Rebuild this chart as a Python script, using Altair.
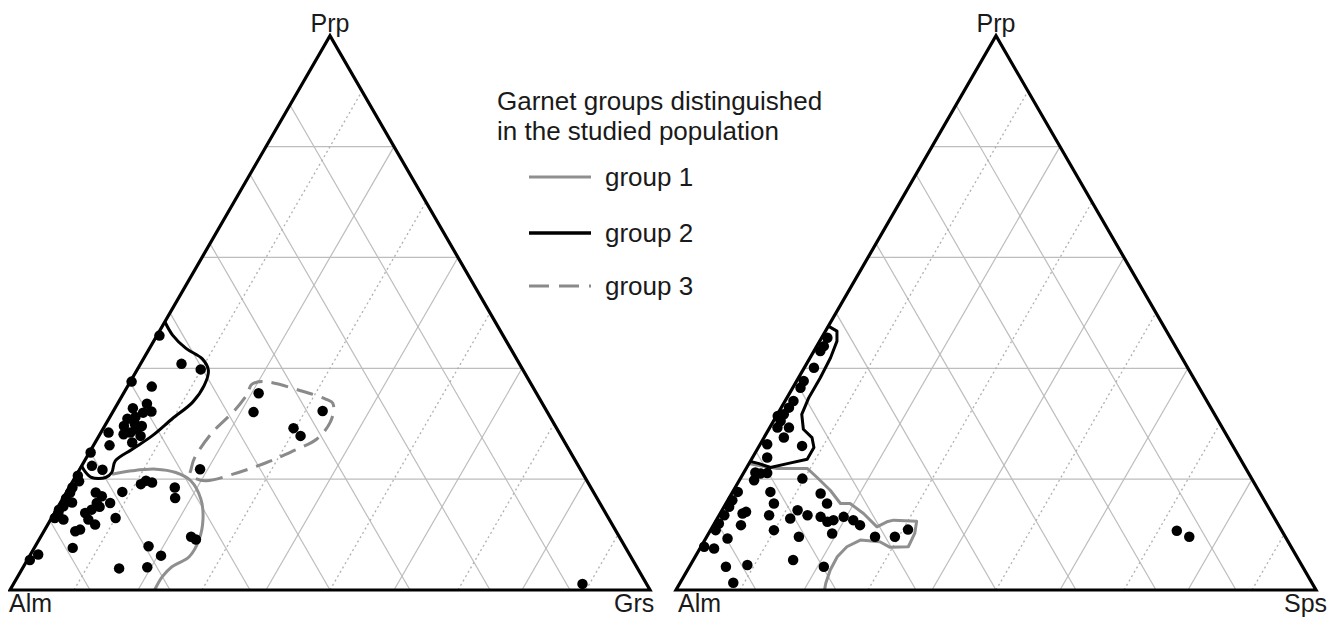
import altair as alt
import pandas as pd

# ---------------- data (molar fractions) ----------------
# Left diagram: Alm - Grs - Prp   (prp, grs)
left_prp = [0.459, 0.408, 0.398, 0.376, 0.367, 0.336, 0.322, 0.328, 0.309, 0.312,
            0.296, 0.296, 0.284, 0.281, 0.278, 0.266, 0.284, 0.261, 0.248, 0.224,
            0.217, 0.206, 0.185, 0.176, 0.163, 0.151, 0.139, 0.130, 0.127, 0.176,
            0.169, 0.157, 0.157, 0.145, 0.127, 0.118, 0.109, 0.106, 0.130, 0.177,
            0.191, 0.197, 0.194, 0.185, 0.166, 0.096, 0.091, 0.076, 0.079, 0.062,
            0.039, 0.041, 0.064, 0.054, 0.165, 0.145, 0.139, 0.300, 0.290, 0.320,
            0.196, 0.158, 0.150,
            0.355, 0.321, 0.323, 0.292, 0.278, 0.218, 0.011]
left_grs = [0.004, 0.064, 0.099, 0.002, 0.038, 0.046, 0.060, 0.028, 0.029, 0.040,
            0.030, 0.058, 0.046, 0.037, 0.065, 0.058, 0.012, 0.025, 0.002, 0.016,
            0.036, 0.003, 0.005, 0.006, 0.007, 0.008, 0.006, 0.005, 0.020, 0.046,
            0.059, 0.078, 0.057, 0.055, 0.059, 0.074, 0.055, 0.049, 0.100, 0.087,
            0.109, 0.114, 0.125, 0.165, 0.175, 0.235, 0.245, 0.060, 0.177, 0.205,
            0.151, 0.194, 0.012, 0.004, 0.005, 0.004, 0.048, 0.045, 0.052, 0.048,
            0.010, 0.018, 0.065,
            0.211, 0.220, 0.327, 0.297, 0.315, 0.188, 0.889]

# Right diagram: Alm - Sps - Prp   (prp, sps)
right_prp = [0.455, 0.440, 0.431, 0.401, 0.377, 0.365, 0.341, 0.329, 0.317, 0.305,
             0.293, 0.293, 0.275, 0.260, 0.263, 0.239, 0.314, 0.212, 0.210, 0.211,
             0.198, 0.201, 0.177, 0.162, 0.150, 0.135, 0.120, 0.108, 0.078, 0.075,
             0.093, 0.138, 0.141, 0.117, 0.177, 0.156, 0.135, 0.108, 0.129, 0.144,
             0.135, 0.174, 0.156, 0.132, 0.123, 0.126, 0.132, 0.126, 0.117, 0.102,
             0.096, 0.096, 0.096, 0.109, 0.042, 0.045, 0.013, 0.054, 0.042,
             0.107, 0.096]
right_sps = [0.009, 0.011, 0.010, 0.015, 0.011, 0.012, 0.013, 0.012, 0.010, 0.011,
             0.030, 0.012, 0.031, 0.067, 0.011, 0.023, 0.002, 0.018, 0.027, 0.037,
             0.023, 0.097, 0.008, 0.007, 0.008, 0.008, 0.007, 0.008, 0.005, 0.022,
             0.034, 0.035, 0.039, 0.043, 0.059, 0.075, 0.078, 0.099, 0.114, 0.118,
             0.138, 0.139, 0.158, 0.160, 0.175, 0.183, 0.196, 0.214, 0.229, 0.193,
             0.144, 0.263, 0.294, 0.308, 0.057, 0.089, 0.083, 0.156, 0.210,
             0.729, 0.754]

# Group outlines
left_g1_prp = [0.209, 0.215, 0.218, 0.212, 0.197, 0.163, 0.127, 0.091, 0.060, 0.042, 0.024, 0.0]
left_g1_grs = [0.055, 0.083, 0.119, 0.153, 0.184, 0.217, 0.238, 0.250, 0.250, 0.232, 0.226, 0.226]
left_g2_prp = [0.484, 0.460, 0.436, 0.417, 0.396, 0.369, 0.339, 0.309, 0.278, 0.254, 0.233,
               0.212, 0.203, 0.203, 0.215, 0.224]
left_g2_grs = [0.0, 0.024, 0.057, 0.092, 0.112, 0.119, 0.116, 0.099, 0.083, 0.064, 0.048,
               0.053, 0.048, 0.026, 0.009, 0.0]
left_g3_prp = [0.206, 0.197, 0.209, 0.230, 0.251, 0.272, 0.303, 0.333, 0.345, 0.360, 0.375,
               0.372, 0.351, 0.321, 0.284, 0.242, 0.218]
left_g3_grs = [0.180, 0.208, 0.244, 0.286, 0.317, 0.343, 0.349, 0.339, 0.320, 0.273, 0.218,
               0.193, 0.194, 0.188, 0.174, 0.169, 0.174]
right_g1_prp = [0.228, 0.224, 0.219, 0.219, 0.203, 0.180, 0.156, 0.156, 0.138, 0.114, 0.123,
                0.126, 0.124, 0.102, 0.078, 0.077, 0.087, 0.090, 0.078, 0.060, 0.036, 0.012, 0.0]
right_g1_sps = [0.0, 0.020, 0.049, 0.096, 0.119, 0.151, 0.179, 0.194, 0.224, 0.257, 0.268,
                0.277, 0.314, 0.322, 0.324, 0.296, 0.275, 0.243, 0.228, 0.222, 0.223, 0.228, 0.232]
right_g2_prp = [0.476, 0.467, 0.449, 0.419, 0.383, 0.347, 0.317, 0.290, 0.275, 0.257, 0.236,
                0.228, 0.221, 0.228, 0.232]
right_g2_sps = [0.0, 0.018, 0.027, 0.032, 0.034, 0.034, 0.038, 0.054, 0.075, 0.087, 0.087,
                0.060, 0.037, 0.016, 0.0]

# Grid levels
prp_levels = [0.2, 0.4, 0.6, 0.8]
third_solid = [0.2, 0.4, 0.6, 0.8]
third_dotted = [0.1, 0.3, 0.5, 0.7, 0.9]
alm_levels = [0.125, 0.25, 0.375, 0.5, 0.625, 0.75, 0.875]

vertex_names = {"left": ["Alm", "Grs", "Prp"], "right": ["Alm", "Sps", "Prp"]}
legend_title = ["Garnet groups distinguished", "in the studied population"]
legend_labels = ["group 1", "group 2", "group 3"]

# ---------------- layout constants ----------------
OFF = 1.040625
H = 0.8660254
FONT = "Liberation Sans"
TXT = "#1a1a1a"
G1 = "#8f8f8f"
G3 = "#8a8a8a"

xs = alt.Scale(domain=[0, 1], range=[2, 642], nice=False, zero=False)
ys = alt.Scale(domain=[0, 1], range=[582, -58], nice=False, zero=False)
X = lambda f: alt.X(f, type="quantitative", scale=xs, axis=None)
Y = lambda f: alt.Y(f, type="quantitative", scale=ys, axis=None)


def xexpr(p, c):
    return f"(datum.panel=='right'?{OFF}:0)+datum.{c}+datum.{p}/2"


def yexpr(p):
    return f"datum.{p}*{H}"


# ---------------- grid ----------------
rows = []
for panel in ["left", "right"]:
    for p in prp_levels:
        rows.append(dict(panel=panel, style="solid", p1=p, c1=0.0, p2=p, c2=1 - p))
    for g in third_solid:
        rows.append(dict(panel=panel, style="solid", p1=0.0, c1=g, p2=1 - g, c2=g))
    for g in third_dotted:
        rows.append(dict(panel=panel, style="dotted", p1=0.0, c1=g, p2=1 - g, c2=g))
    for a in alm_levels:
        rows.append(dict(panel=panel, style="solid", p1=0.0, c1=1 - a, p2=1 - a, c2=0.0))
grid = pd.DataFrame(rows)

grid_base = alt.Chart(grid).transform_calculate(
    x=xexpr("p1", "c1"), y=yexpr("p1"), x2=xexpr("p2", "c2"), y2=yexpr("p2")
)
grid_solid = grid_base.transform_filter("datum.style=='solid'").mark_rule(
    color="#bdbdbd", strokeWidth=1.2
).encode(x=X("x"), y=Y("y"), x2="x2:Q", y2="y2:Q")
grid_dot = grid_base.transform_filter("datum.style=='dotted'").mark_rule(
    color="#b0b0b0", strokeWidth=1.3, strokeDash=[2, 3]
).encode(x=X("x"), y=Y("y"), x2="x2:Q", y2="y2:Q")

# ---------------- outlines ----------------
def outline(panel, key, ps, cs):
    return pd.DataFrame(dict(panel=panel, key=key, ord=list(range(len(ps))), prp=ps, c=cs))


cont = pd.concat([
    outline("left", "L1", left_g1_prp, left_g1_grs),
    outline("left", "L2", left_g2_prp, left_g2_grs),
    outline("left", "L3", left_g3_prp, left_g3_grs),
    outline("right", "R1", right_g1_prp, right_g1_sps),
    outline("right", "R2", right_g2_prp, right_g2_sps),
])
cont_base = alt.Chart(cont).transform_calculate(x=xexpr("prp", "c"), y=yexpr("prp"))
enc = dict(x=X("x"), y=Y("y"), detail="key:N", order="ord:Q")

l_g1 = cont_base.transform_filter("datum.key=='L1'").mark_line(
    color=G1, strokeWidth=3, interpolate="catmull-rom").encode(**enc)
l_g2 = cont_base.transform_filter("datum.key=='L2'").mark_line(
    color="black", strokeWidth=3, interpolate="catmull-rom").encode(**enc)
l_g3 = cont_base.transform_filter("datum.key=='L3'").mark_line(
    color=G3, strokeWidth=3, interpolate="cardinal-closed", strokeDash=[17, 9]).encode(**enc)
r_g1 = cont_base.transform_filter("datum.key=='R1'").mark_line(
    color=G1, strokeWidth=3, interpolate="linear", strokeJoin="round").encode(**enc)
r_g2 = cont_base.transform_filter("datum.key=='R2'").mark_line(
    color="black", strokeWidth=3, interpolate="linear", strokeJoin="round").encode(**enc)

# ---------------- points ----------------
pts = pd.DataFrame(dict(
    panel=["left"] * len(left_prp) + ["right"] * len(right_prp),
    prp=left_prp + right_prp,
    c=left_grs + right_sps,
))
points = alt.Chart(pts).transform_calculate(x=xexpr("prp", "c"), y=yexpr("prp")).mark_circle(
    size=110, color="black", opacity=1
).encode(x=X("x"), y=Y("y"))

# ---------------- triangles ----------------
tri = pd.DataFrame(dict(panel=["left"] * 3 + ["right"] * 3, ord=[0, 1, 2] * 2,
                        prp=[0.0, 0.0, 1.0] * 2, c=[0.0, 1.0, 0.0] * 2))
triangles = alt.Chart(tri).transform_calculate(x=xexpr("prp", "c"), y=yexpr("prp")).mark_line(
    color="black", strokeWidth=3.2, interpolate="linear-closed", strokeJoin="miter"
).encode(x=X("x"), y=Y("y"), detail="panel:N", order="ord:Q")

# ---------------- vertex labels ----------------
label_layers = []
offsets = [(0, -1, 22, "left"), (1, -36, 22, "left"), (2, 0, -4, "center")]
for panel in ["left", "right"]:
    for idx, dx, dy, align in offsets:
        prp = 1.0 if idx == 2 else 0.0
        c = 1.0 if idx == 1 else 0.0
        ddx = dx
        if panel == "right" and idx == 0:
            ddx = 2
        if panel == "right" and idx == 1:
            ddx = -32
        d = pd.DataFrame(dict(panel=[panel], name=[vertex_names[panel][idx]], prp=[prp], c=[c]))
        label_layers.append(
            alt.Chart(d).transform_calculate(x=xexpr("prp", "c"), y=yexpr("prp")).mark_text(
                align=align, baseline="alphabetic", dx=ddx, dy=dy, fontSize=25, font=FONT, color=TXT
            ).encode(x=X("x"), y=Y("y"), text="name:N")
        )

# ---------------- legend ----------------
leg = []
for i, t in enumerate(legend_title):
    leg.append(alt.Chart(pd.DataFrame(dict(t=[t]))).mark_text(
        align="left", baseline="alphabetic", fontSize=26, font=FONT, color=TXT
    ).encode(x=alt.value(489), y=alt.value(102 + 30 * i), text="t:N"))

leg_y = [169, 225, 278]
leg_style = [dict(color=G1, strokeWidth=3), dict(color="black", strokeWidth=3.5),
             dict(color=G3, strokeWidth=3, strokeDash=[20, 10])]
for lab, yy, st in zip(legend_labels, leg_y, leg_style):
    d = pd.DataFrame(dict(t=[lab]))
    leg.append(alt.Chart(d).mark_rule(**st).encode(
        x=alt.value(521), x2=alt.value(583), y=alt.value(yy)))
    leg.append(alt.Chart(d).mark_text(
        align="left", baseline="alphabetic", fontSize=26, font=FONT, color=TXT
    ).encode(x=alt.value(597), y=alt.value(yy + 9), text="t:N"))

chart = alt.layer(
    grid_solid, grid_dot, l_g1, l_g2, l_g3, r_g1, r_g2, points, triangles,
    *label_layers, *leg
).properties(
    width=1323, height=612, autosize=alt.AutoSizeParams(type="none"), padding=0
).configure_view(stroke=None)

chart.save("out.html", embed_options={"renderer": "svg", "actions": False})
